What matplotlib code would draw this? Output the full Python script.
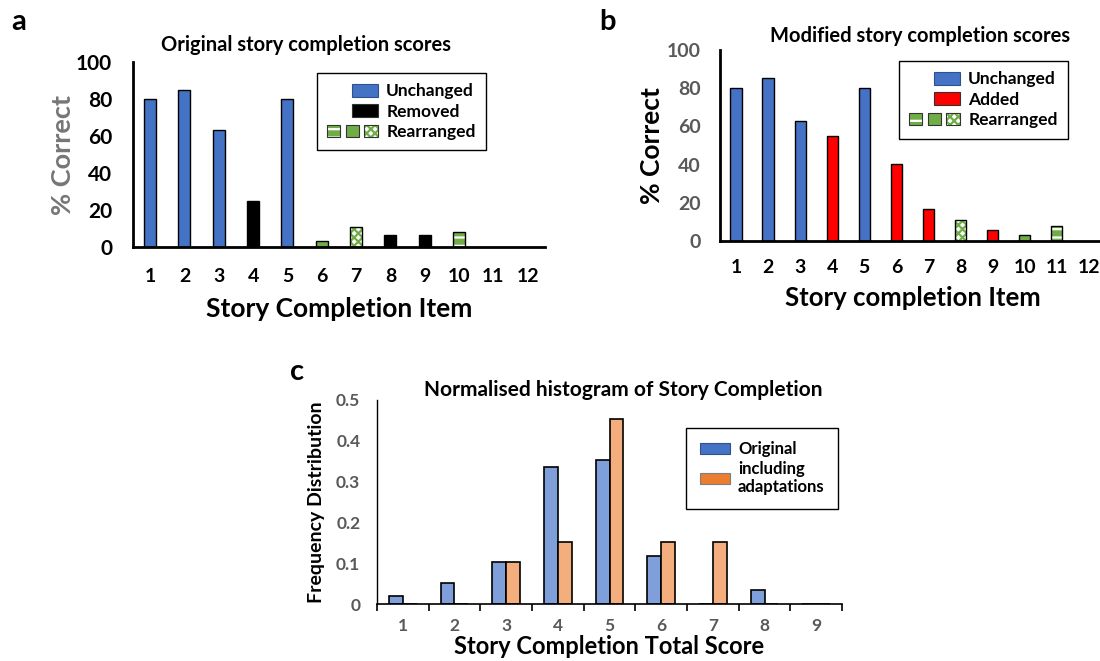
import matplotlib
matplotlib.use('Agg')
import matplotlib.pyplot as plt
from matplotlib.patches import Patch, Rectangle
from matplotlib.legend_handler import HandlerTuple, HandlerPatch
import numpy as np

plt.rcParams['font.family'] = ['Lato', 'DejaVu Sans']
plt.rcParams['font.weight'] = 'bold'
plt.rcParams['axes.titleweight'] = 'bold'
plt.rcParams['axes.labelweight'] = 'bold'
plt.rcParams['hatch.linewidth'] = 1.6

# ---------------- data ----------------
items = list(range(1, 13))
orig_scores = [80, 85, 63, 25, 80, 3.4, 11, 6.5, 6.5, 8, 0, 0]
orig_types = ['Unchanged', 'Unchanged', 'Unchanged', 'Removed', 'Unchanged',
              'R-solid', 'R-check', 'Removed', 'Removed', 'R-stripe', 'none', 'none']
mod_scores = [80, 85.5, 63, 55, 80, 40.5, 16.5, 11, 6, 3.2, 8, 0]
mod_types = ['Unchanged', 'Unchanged', 'Unchanged', 'Added', 'Unchanged',
             'Added', 'Added', 'R-check', 'Added', 'R-solid', 'R-stripe', 'none']

hist_scores = list(range(1, 10))
hist_original = [0.019, 0.051, 0.102, 0.335, 0.352, 0.118, 0.0, 0.035, 0.0]
hist_adapt = [0.0, 0.0, 0.102, 0.152, 0.453, 0.152, 0.152, 0.0, 0.0]

# ---------------- styles ----------------
BLUE = '#4472C4'
GREEN = '#70AD47'
RED = '#FF0000'
GREY = '#595959'
LBLUE = '#7F9FDA'
LORANGE = '#F4AE7E'
ORANGE = '#ED7D31'
W = 0.35

fig = plt.figure(figsize=(11, 6.61), dpi=100)


def draw_bars(ax, xs, hs, types):
    for x, h, t in zip(xs, hs, types):
        if t == 'none':
            continue
        if t in ('Unchanged', 'Removed', 'Added', 'R-solid'):
            fc = {'Unchanged': BLUE, 'Removed': 'black', 'Added': RED, 'R-solid': GREEN}[t]
            ax.bar(x, h, width=W, color=fc, edgecolor='black', linewidth=1.0, zorder=2)
        elif t == 'R-stripe':
            ax.bar(x, h, width=W, color=GREEN, edgecolor='white', hatch='--', linewidth=0, zorder=2)
            ax.bar(x, h, width=W, fill=False, edgecolor='black', linewidth=1.0, zorder=3)
        elif t == 'R-check':
            ax.bar(x, h, width=W, color='white', edgecolor=GREEN, hatch='xxxx', linewidth=0, zorder=2)
            ax.bar(x, h, width=W, fill=False, edgecolor='black', linewidth=1.0, zorder=3)


def right_patch(legend, orig_handle, xdescent, ydescent, width, height, fontsize):
    return Rectangle((-xdescent + width * 0.5, -ydescent), width * 0.5, height)


def make_legend(ax, second_label, second_color, anchor):
    h1 = Patch(facecolor=BLUE, edgecolor='#2F528F', linewidth=0.8)
    h2 = Patch(facecolor=second_color, edgecolor='#333333', linewidth=0.8)
    stripe = (Patch(facecolor=GREEN, edgecolor='white', hatch='--', linewidth=0),
              Patch(fill=False, edgecolor='#333333', linewidth=0.8))
    solid = Patch(facecolor=GREEN, edgecolor='#333333', linewidth=0.8)
    check = (Patch(facecolor='white', edgecolor=GREEN, hatch='xxxx', linewidth=0),
             Patch(fill=False, edgecolor='#333333', linewidth=0.8))
    rearr = (stripe, solid, check)
    leg = ax.legend([h1, h2, rearr], ['Unchanged', second_label, 'Rearranged'],
                    handler_map={h1: HandlerPatch(patch_func=right_patch),
                                 h2: HandlerPatch(patch_func=right_patch),
                                 rearr: HandlerTuple(ndivide=None, pad=0.3)},
                    loc='upper right', bbox_to_anchor=anchor, bbox_transform=fig.transFigure,
                    frameon=True, fancybox=False, edgecolor='black', framealpha=1,
                    prop={'size': 12.5, 'weight': 'bold'}, handlelength=2.9, handleheight=0.75,
                    labelspacing=0.25, handletextpad=0.5, borderpad=0.6, borderaxespad=0)
    leg.get_frame().set_linewidth(1.0)
    return leg


def style_item_axes(ax):
    for s in ('top', 'right'):
        ax.spines[s].set_visible(False)
    for s in ('left', 'bottom'):
        ax.spines[s].set_linewidth(2)
        ax.spines[s].set_color('black')
    ax.set_xlim(0.5, 12.5)
    ax.set_ylim(0, 100)
    ax.set_xticks(items)
    ax.set_xticklabels([str(i) for i in items])
    ax.set_yticks([0, 20, 40, 60, 80, 100])
    ax.tick_params(axis='both', length=0)


# ---------------- panel a ----------------
axa = fig.add_axes([0.1209, 0.6263, 0.3745, 0.2799])
draw_bars(axa, items, orig_scores, orig_types)
style_item_axes(axa)
axa.tick_params(axis='x', pad=15, labelsize=14)
axa.tick_params(axis='y', pad=15, labelsize=15)
axa.set_ylabel('% Correct', fontsize=19.5, color='#767676', labelpad=1)
axa.set_xlabel('Story Completion Item', fontsize=19, labelpad=9)
axa.set_title('Original story completion scores', fontsize=14.5, x=0.42, pad=8)
make_legend(axa, 'Removed', 'black', (0.4418, 0.8896))
fig.text(0.010, 0.966, 'a', fontsize=21, fontweight='bold', va='center')

# ---------------- panel b ----------------
axb = fig.add_axes([0.6545, 0.6354, 0.35, 0.289])
draw_bars(axb, items, mod_scores, mod_types)
style_item_axes(axb)
axb.tick_params(axis='x', pad=13, labelsize=14)
axb.tick_params(axis='y', pad=14, labelsize=14, labelcolor=GREY)
axb.set_ylabel('% Correct', fontsize=19, labelpad=2)
axb.set_xlabel('Story completion Item', fontsize=18.5, labelpad=7)
axb.set_title('Modified story completion scores', fontsize=14.5, x=0.52, pad=6)
make_legend(axb, 'Added', RED, (0.9709, 0.9077))
fig.text(0.545, 0.966, 'b', fontsize=21, fontweight='bold', va='center')

# ---------------- panel c ----------------
axc = fig.add_axes([0.3427, 0.0862, 0.4228, 0.3087])
xc = np.array(hist_scores)
bw = 0.27
axc.bar(xc - bw / 2, hist_original, width=bw, color=LBLUE, edgecolor='black', linewidth=1.2, zorder=2)
axc.bar(xc + bw / 2, hist_adapt, width=bw, color=LORANGE, edgecolor='black', linewidth=1.2, zorder=2)
for s in ('top', 'right'):
    axc.spines[s].set_visible(False)
axc.spines['left'].set_linewidth(1.0)
axc.spines['bottom'].set_linewidth(1.2)
axc.set_xlim(0.5, 9.5)
axc.set_ylim(0, 0.5)
axc.set_xticks(np.arange(0.5, 10, 1))
axc.set_xticklabels([])
axc.set_xticks(hist_scores, minor=True)
axc.set_xticklabels([str(i) for i in hist_scores], minor=True)
axc.tick_params(axis='x', which='major', length=5, width=1.2, direction='out')
axc.tick_params(axis='x', which='minor', length=0, pad=10, labelsize=12.5, labelcolor=GREY)
axc.set_yticks([0, 0.1, 0.2, 0.3, 0.4, 0.5])
axc.set_yticklabels(['0', '0.1', '0.2', '0.3', '0.4', '0.5'])
axc.tick_params(axis='y', length=0, pad=12, labelsize=12.5, labelcolor=GREY)
axc.set_ylabel('Frequency Distribution', fontsize=14, labelpad=8)
axc.set_xlabel('Story Completion Total Score', fontsize=17, labelpad=1)
axc.set_title('Normalised histogram of Story Completion', fontsize=15, x=0.53, pad=1)
legc = axc.legend([Patch(facecolor=BLUE, edgecolor='#2F528F', linewidth=0.8),
                   Patch(facecolor=ORANGE, edgecolor='#7F7F7F', linewidth=0.8)],
                  ['Original', 'including\nadaptations'],
                  loc='upper right', bbox_to_anchor=(0.7618, 0.3525), bbox_transform=fig.transFigure,
                  frameon=True, fancybox=False, edgecolor='black', framealpha=1,
                  prop={'size': 12, 'weight': 'bold'}, handlelength=1.8, handleheight=0.6,
                  labelspacing=0.2, handletextpad=0.5, borderpad=0.8, borderaxespad=0)
legc.get_frame().set_linewidth(1.0)
fig.text(0.264, 0.437, 'c', fontsize=21, fontweight='bold', va='center')

fig.savefig('out.png', dpi=100)
